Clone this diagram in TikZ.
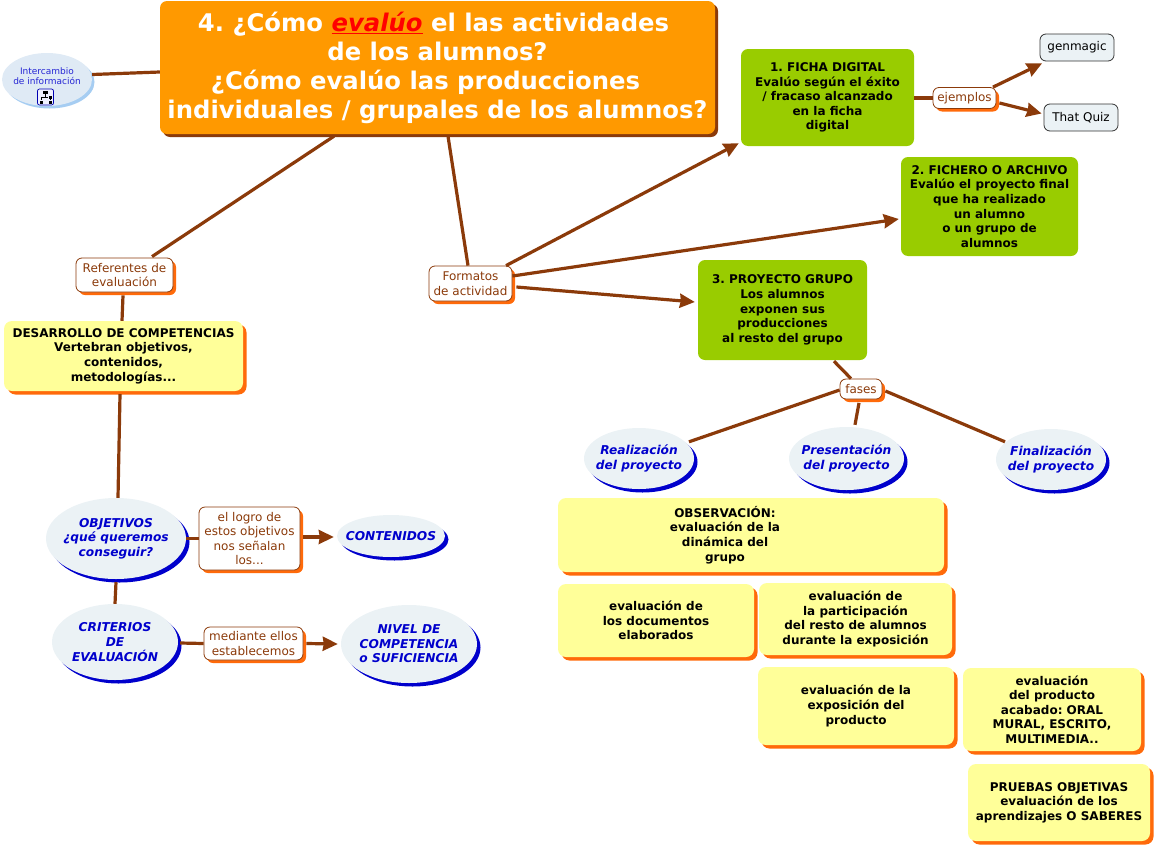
\documentclass[tikz,border=0pt]{standalone}
\usepackage{fontspec}
\setmainfont{DejaVu Sans}
\usetikzlibrary{arrows.meta, positioning, shapes.geometric, shadows}
\definecolor{linkbrown}{HTML}{8B3A0A}
\definecolor{titleorange}{HTML}{FF9900}
\definecolor{shadeorange}{HTML}{FF6A0A}
\definecolor{leafgreen}{HTML}{99CC00}
\definecolor{paleyellow}{HTML}{FFFF99}
\definecolor{paleblue}{HTML}{EBF2F5}
\definecolor{deepblue}{HTML}{0000CC}
\definecolor{infoblue}{HTML}{DFEAF5}
\definecolor{infoshade}{HTML}{A6CDF2}
\frenchspacing

\begin{document}
\begin{tikzpicture}[
  x=1pt, y=-1pt,
  titlebox/.style={rectangle, rounded corners=7pt, fill=titleorange, text=white, align=center, inner sep=0pt, minimum width=555pt, minimum height=133pt, font=\fontsize{24.3}{29}\selectfont\bfseries, copy shadow={shadow xshift=3pt, shadow yshift=-3pt, fill=linkbrown, draw=none}},
  greenbox/.style={rectangle, rounded corners=7pt, fill=leafgreen, align=center, inner sep=0pt, font=\fontsize{12}{14.6}\selectfont\bfseries},
  yellowbox/.style={rectangle, rounded corners=8pt, fill=paleyellow, align=center, inner sep=0pt, font=\fontsize{12}{14.6}\selectfont\bfseries, copy shadow={shadow xshift=3.5pt, shadow yshift=-3.5pt, fill=shadeorange, draw=none}},
  linkbox/.style={rectangle, rounded corners=6pt, draw=linkbrown, line width=.8pt, fill=white, text=linkbrown, align=center, inner sep=0pt, font=\fontsize{12}{14.6}\selectfont, copy shadow={shadow xshift=3pt, shadow yshift=-3pt, fill=shadeorange, draw=none}},
  bubble/.style={ellipse, fill=paleblue, text=deepblue, align=center, inner sep=-14pt, font=\fontsize{12.2}{14.6}\selectfont\bfseries\itshape, copy shadow={shadow xshift=3.5pt, shadow yshift=-3.5pt, fill=deepblue, draw=none}},
  leaf/.style={rectangle, rounded corners=6pt, draw=black!80, line width=.8pt, fill=paleblue, align=center, inner sep=0pt, minimum width=74pt, minimum height=27pt, font=\fontsize{12}{14}\selectfont},
  conn/.style={draw=linkbrown, line width=3.2pt},
  arr/.style={conn, -{Stealth[length=15pt, width=14pt, inset=1pt]}},
  iconpart/.style={rectangle, fill=black, minimum size=3pt, inner sep=0pt}
]
\useasboundingbox (0,0) rectangle (1156,846);
\node[titlebox] (main) at (437.5,67.5) {4. ¿Cómo \textcolor{red}{\underline{\textit{evalúo}}} el las actividades\rule{8pt}{0pt}\\de los alumnos?\\¿Cómo evalúo las producciones\rule{24pt}{0pt}\\individuales / grupales de los alumnos?};
\node[ellipse, fill=infoblue, text=deepblue!85, align=center, inner sep=-6pt, minimum width=90pt, minimum height=53pt, font=\fontsize{9}{11}\selectfont, copy shadow={shadow xshift=2.5pt, shadow yshift=-2.5pt, fill=infoshade, draw=none}] (inter) at (47,79.5) {\raisebox{7pt}{\shortstack{Intercambio\\de información}}};
\node[rectangle, rounded corners=2pt, draw=blue!70!black, line width=.7pt, fill=blue!6, minimum size=16pt, inner sep=0pt] (icon) at (45.5,97) {};
\node[iconpart, minimum width=5pt] (icontop) at (45.5,92) {};
\node[iconpart] (iconleft) at (41,102) {};
\node[iconpart] (iconmid) at (50,97) {};
\node[iconpart] (iconright) at (50,102) {};
\draw[black, line width=.7pt] (icontop) -- (45.5,97) -| (iconleft); \draw[black, line width=.7pt] (45.5,97) -- (iconmid) -- (iconright);

\node[greenbox, minimum width=173pt, minimum height=97pt] (ficha) at (827.5,97.5) {1. FICHA DIGITAL\\Evalúo según el éxito\\/ fracaso alcanzado\\en la ficha\\digital};
\node[greenbox, minimum width=177pt, minimum height=99pt] (fichero) at (989.5,206.5) {2. FICHERO O ARCHIVO\\Evalúo el proyecto final\\que ha realizado\\un alumno\\o un grupo de\\alumnos};
\node[greenbox, minimum width=169pt, minimum height=100pt] (proyecto) at (782.5,310) {3. PROYECTO GRUPO\\Los alumnos\\exponen sus\\producciones\\al resto del grupo};
\node[leaf] (genmagic) at (1077,47.5) {genmagic};
\node[leaf] (thatquiz) at (1081,117.5) {That Quiz};
\node[linkbox, minimum width=63pt, minimum height=21pt] (ejemplos) at (964.5,98) {ejemplos};
\node[linkbox, minimum width=42pt, minimum height=20pt] (fases) at (861,389) {fases};
\node[linkbox, minimum width=83pt, minimum height=35pt] (formatos) at (470.5,283.5) {Formatos\\de actividad};
\node[linkbox, minimum width=97pt, minimum height=34pt] (referentes) at (124.5,275) {Referentes de\\evaluación};
\node[linkbox, minimum width=101pt, minimum height=63pt] (logro) at (249.5,538.5) {el logro de\\estos objetivos\\nos señalan\\los...};
\node[linkbox, minimum width=99pt, minimum height=33pt] (mediante) at (253.5,643.5) {mediante ellos\\establecemos};

\node[yellowbox, minimum width=239pt, minimum height=70pt] (desarrollo) at (123.5,356) {DESARROLLO DE COMPETENCIAS\\Vertebran objetivos,\\contenidos,\\metodologías...};
\node[bubble, minimum width=140pt, minimum height=81pt] (objetivos) at (116,538.5) {OBJETIVOS\\¿qué queremos\\conseguir?};
\node[bubble, minimum width=108pt, minimum height=42pt] (contenidos) at (391,536) {CONTENIDOS};
\node[bubble, minimum width=126pt, minimum height=76pt] (criterios) at (115,642) {CRITERIOS\\DE\\EVALUACIÓN};
\node[bubble, minimum width=136pt, minimum height=78pt] (nivel) at (409,644) {NIVEL DE\\COMPETENCIA\\o SUFICIENCIA};
\node[bubble, minimum width=110pt, minimum height=61pt] (realizacion) at (639,458.5) {Realización\\del proyecto};
\node[bubble, minimum width=115pt, minimum height=63pt] (presentacion) at (846.5,458.5) {Presentación\\del proyecto};
\node[bubble, minimum width=110pt, minimum height=61pt] (finalizacion) at (1051,459.5) {Finalización\\del proyecto};

\node[yellowbox, minimum width=386pt, minimum height=74pt] (observacion) at (751,535) {};
\node[font=\fontsize{12}{14.6}\selectfont\bfseries, align=center, inner sep=0pt] (observaciontxt) at (725,535) {OBSERVACIÓN:\\evaluación de la\\dinámica del\\grupo};
\node[yellowbox, minimum width=196pt, minimum height=73pt] (documentos) at (656,620.5) {evaluación de\\los documentos\\elaborados};
\node[yellowbox, minimum width=193pt, minimum height=72pt] (participacion) at (855.5,619) {evaluación de\\la participación\\del resto de alumnos\\durante la exposición};
\node[yellowbox, minimum width=196pt, minimum height=78pt] (exposicion) at (856,706) {evaluación de la\\exposición del\\producto};
\node[yellowbox, minimum width=178pt, minimum height=83pt] (producto) at (1052,709.5) {evaluación\\del producto\\acabado: ORAL\\MURAL, ESCRITO,\\MULTIMEDIA..};
\node[yellowbox, minimum width=182pt, minimum height=77pt] (pruebas) at (1059,802.5) {PRUEBAS OBJETIVAS\\evaluación de los\\aprendizajes O SABERES};

\draw[conn] ([yshift=5pt]inter.east) -- ([yshift=-4.5pt]main.west);
\draw[conn] ([xshift=-103.5pt,yshift=-2pt]main.south) -- ([xshift=27.5pt,yshift=1pt]referentes.north);
\draw[conn] ([xshift=10.5pt,yshift=-2pt]main.south) -- ([xshift=-2.5pt]formatos.north);
\draw[conn] ([xshift=-1.5pt,yshift=-3pt]referentes.south) -- ([xshift=-1.5pt]desarrollo.north);
\draw[conn] ([xshift=-3.5pt,yshift=-3pt]desarrollo.south) -- ([xshift=2pt]objetivos.north);
\draw[conn] (objetivos.east) -- (objetivos.east -| logro.west);
\draw[arr] ([xshift=3pt,yshift=1.5pt]logro.east) -- ([xshift=-3pt,yshift=-1pt]contenidos.west);
\draw[conn] ([yshift=-3pt]objetivos.south) -- (criterios.north);
\draw[conn] ([xshift=2pt,yshift=-1pt]criterios.east) -- (mediante.west);
\draw[arr] ([xshift=3pt]mediante.east) -- ([xshift=-3pt]nivel.west);
\draw[arr] ([xshift=35.5pt]formatos.north) -- ([xshift=-2pt,yshift=3pt]ficha.south west);
\draw[arr] ([yshift=7.5pt]formatos.east) -- ([xshift=-2pt,yshift=-12.5pt]fichero.west);
\draw[arr] ([xshift=4pt,yshift=-3.5pt]formatos.east) -- ([xshift=-3pt,yshift=8pt]proyecto.west);
\draw[conn] ([yshift=-.5pt]ficha.east) -- (ejemplos.west);
\draw[arr] ([xshift=28.5pt]ejemplos.north) -- ([xshift=-35pt,yshift=-2pt]genmagic.south);
\draw[arr] ([xshift=3pt,yshift=-5pt]ejemplos.east) -- ([xshift=-2pt,yshift=4pt]thatquiz.west);
\draw[conn] ([xshift=51.5pt,yshift=-1pt]proyecto.south) -- ([xshift=-10pt]fases.north);
\draw[conn] ([yshift=-1pt]fases.west) -- ([xshift=50pt,yshift=-14pt]realizacion.north);
\draw[conn] ([xshift=-2pt,yshift=-3.5pt]fases.south) -- ([xshift=8.5pt,yshift=2pt]presentacion.north);
\draw[conn] ([xshift=3pt,yshift=-2pt]fases.east) -- ([xshift=-46pt,yshift=-13pt]finalizacion.north);
\end{tikzpicture}
\end{document}
